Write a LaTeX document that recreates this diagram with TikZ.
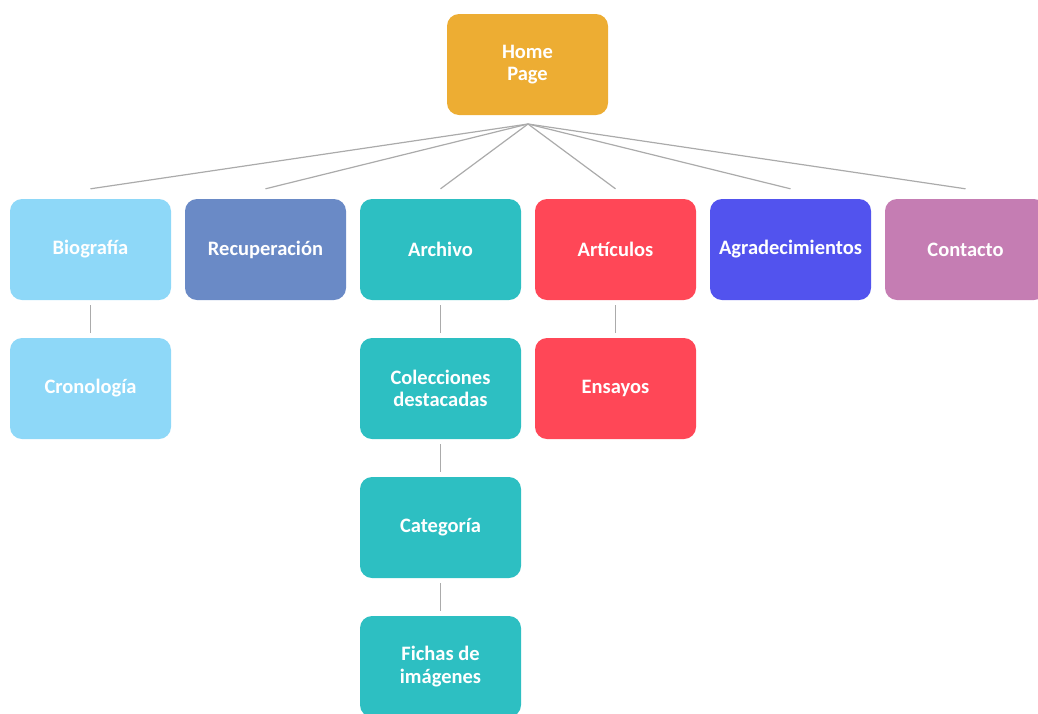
\documentclass[tikz,border=0pt]{standalone}
\usepackage{fontspec}
\setmainfont{Carlito}
\usetikzlibrary{calc}
\definecolor{homec}{HTML}{EDAD33}
\definecolor{bioc}{HTML}{8ED8F8}
\definecolor{recc}{HTML}{6A8AC6}
\definecolor{arcc}{HTML}{2DBFC2}
\definecolor{artc}{HTML}{FF4757}
\definecolor{agrc}{HTML}{5253EE}
\definecolor{conc}{HTML}{C57DB3}
\definecolor{linec}{HTML}{ABABAB}
\tikzset{
  box/.style={rounded corners=12pt, minimum width=161pt, minimum height=101pt,
    inner sep=0pt, text=white, font=\fontsize{20.5}{22.5}\selectfont\bfseries, align=center},
  conn/.style={draw=linec, line width=1.2pt},
  vconn/.style={conn, shorten >=5pt, shorten <=5pt}
}
\begin{document}
\begin{tikzpicture}[x=1pt,y=-1pt]
\useasboundingbox (0,0) rectangle (1038,713);
\clip (0,0) rectangle (1038,713);
\node[box, fill=homec] (home) at (527.5,64.5) {Home\\Page};
\node[box, fill=bioc] (bio) at (90.5,249.5) {Biografía};
\node[box, fill=recc] (rec) at (265.5,249.5) {Recuperación};
\node[box, fill=arcc] (arc) at (440.5,249.5) {Archivo};
\node[box, fill=artc] (art) at (615.5,249.5) {Artículos};
\node[box, fill=agrc] (agr) at (790.5,249.5) {Agradecimientos};
\node[box, fill=conc] (con) at (965.5,249.5) {Contacto};
\node[box, fill=bioc] (cro) at (90.5,388.5) {Cronología};
\node[box, fill=arcc] (col) at (440.5,388.5) {Colecciones\\destacadas};
\node[box, fill=artc] (ens) at (615.5,388.5) {Ensayos};
\node[box, fill=arcc] (cat) at (440.5,527.5) {Categoría};
\node[box, fill=arcc] (fic) at (440.5,666.5) {Fichas de\\imágenes};
\coordinate (hub) at (528,124);
\foreach \n in {bio,rec,arc,art,agr,con}{
  \draw[conn] (hub) -- ($(\n.north)+(0,-10)$);
}
\draw[vconn] (bio) -- (cro);
\draw[vconn] (arc) -- (col);
\draw[vconn] (col) -- (cat);
\draw[vconn] (cat) -- (fic);
\draw[vconn] (art) -- (ens);
\end{tikzpicture}
\end{document}
